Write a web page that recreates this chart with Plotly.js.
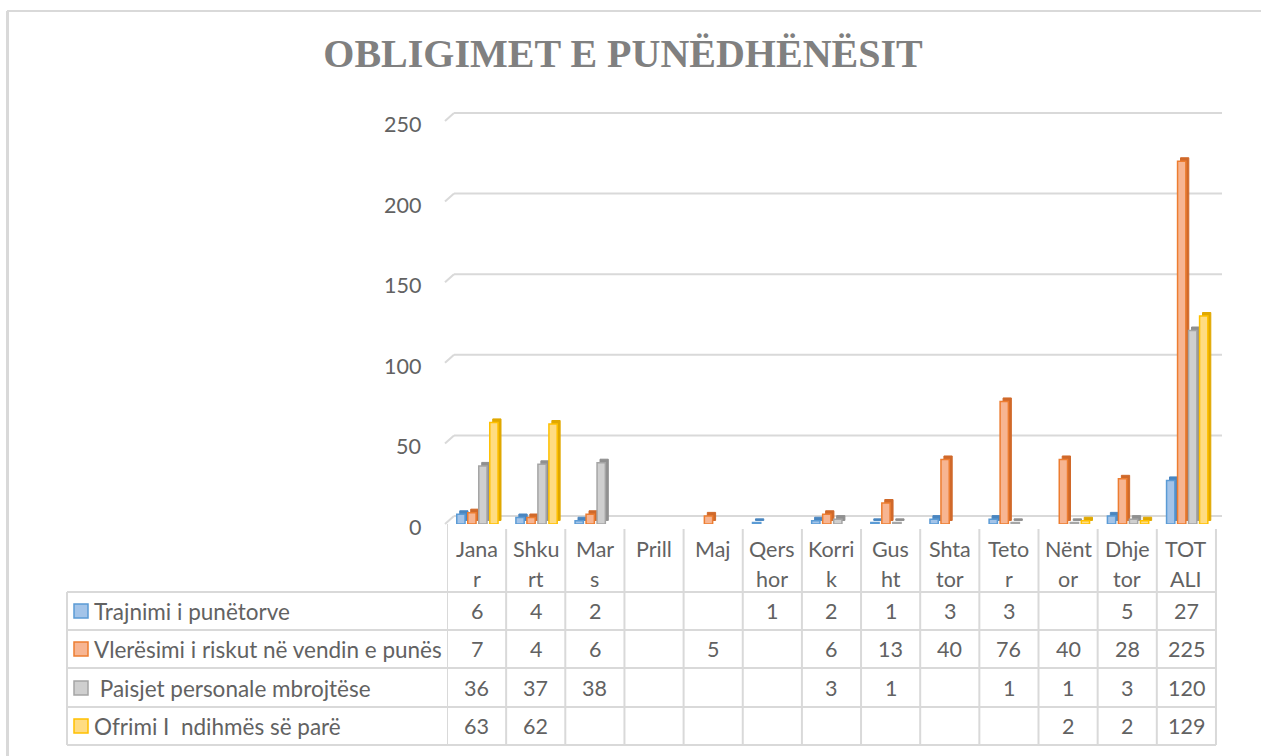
<!DOCTYPE html>
<html>
<head>
<meta charset="utf-8">
<script src="https://cdn.plot.ly/plotly-3.0.1.min.js"></script>
<style>html,body{margin:0;padding:0;background:#fff;}#chart{width:1261px;height:756px;}</style>
</head>
<body>
<div id="chart"></div>
<script>
// ---- DATA ----
const categories = ['Janar','Shkurt','Mars','Prill','Maj','Qershor','Korrik','Gusht','Shtator','Tetor','Nëntor','Dhjetor','TOTALI'];
const tickLabels = ['Jana<br>r','Shku<br>rt','Mar<br>s','Prill','Maj','Qers<br>hor','Korri<br>k','Gus<br>ht','Shta<br>tor','Teto<br>r','Nënt<br>or','Dhje<br>tor','TOT<br>ALI'];
const seriesNames = ['Trajnimi i punëtorve','Vlerësimi i riskut në vendin e punës','\u00a0Paisjet personale mbrojtëse','Ofrimi I \u00a0ndihmës së parë'];
const trajnimi  = [6, 4, 2, null, null, 1, 2, 1, 3, 3, null, 5, 27];
const vleresimi = [7, 4, 6, null, 5, null, 6, 13, 40, 76, 40, 28, 225];
const paisjet   = [36, 37, 38, null, null, null, 3, 1, null, 1, 1, 3, 120];
const ofrimi    = [63, 62, null, null, null, null, null, null, null, null, 2, 2, 129];
const yTicks = [0, 50, 100, 150, 200, 250];

// ---- STYLE ----
const seriesData = [trajnimi, vleresimi, paisjet, ofrimi];
const fills  = ['#a3c4e9', '#f7b592', '#cfcfcf', '#ffdc82'];
const edges  = ['#5b9bd5', '#ed7d31', '#a5a5a5', '#ffc000'];
const sides  = ['#4a86c0', '#d0692a', '#909090', '#e0a800'];
const textColor = '#626262';
const gridColor = '#d9d9d9';
const FONT = 'Lato, "Open Sans", sans-serif';
const yMax = 250;

// plot area in pixels (front face scale)
const L = 447, R = 1222, T = 121, B = 524;
const W = 1261, H = 756;
const PH = B - T;
const px2x = px => (px - L) / (R - L);
const py2y = py => (B - py) / PH;
const catPx = 59.15;
const r0 = -0.5;
const r1 = r0 + (R - L) / catPx;
const backDx = 7, backDy = 8;   // perspective shift of the back wall (px)

const slot = 0.186, start = -0.335, fw = 0.14, depthDx = 0.05;

const traces = [];
seriesData.forEach((vals, i) => {
  const off = start + i * slot;
  traces.push({
    type: 'bar', x: categories, y: vals, base: 2.2,
    offset: off + depthDx, width: fw,
    marker: {color: sides[i], line: {color: sides[i], width: 1}},
    hoverinfo: 'skip', showlegend: false
  });
  traces.push({
    type: 'bar', x: categories, y: vals, name: seriesNames[i],
    offset: off, width: fw,
    marker: {color: fills[i], line: {color: edges[i], width: 1.5}},
    hoverinfo: 'skip', showlegend: false
  });
});

const shapes = [];
const annotations = [];
const line = (x0, y0, x1, y1, w, layer) => ({type: 'line', xref: 'paper', yref: 'paper', x0, y0, x1, y1, line: {color: gridColor, width: w || 2}, layer: layer || 'below'});

// outer chart border (top + left)
shapes.push(line(px2x(7), py2y(11), px2x(1261), py2y(11)));
shapes.push(line(px2x(7.5), py2y(11), px2x(7.5), py2y(756), 3));

// back-wall gridlines + perspective diagonals + value-axis labels
yTicks.forEach(v => {
  const yf = v / yMax;
  const yb = yf + backDy / PH;
  shapes.push(line(px2x(L - 2), yf, px2x(L + backDx), yb, 2, 'below'));
  shapes.push(line(px2x(L + backDx), yb, px2x(R), yb, 2, 'below'));
  annotations.push({xref: 'paper', yref: 'y', x: px2x(423), y: v, yshift: -3, text: String(v), showarrow: false, xanchor: 'right', yanchor: 'middle', font: {family: FONT, size: 21.5, color: textColor}});
});

// table horizontal lines
const rowLines = [592, 630, 668, 707, 745];
rowLines.forEach(py => shapes.push(line(px2x(67), py2y(py), px2x(1216), py2y(py))));
shapes.push(line(px2x(67), py2y(592), px2x(67), py2y(745)));
// category column separators
for (let k = 0; k <= categories.length; k++) {
  shapes.push({type: 'line', xref: 'x', yref: 'paper', x0: k - 0.5, x1: k - 0.5, y0: py2y(k === 0 ? 524 : 529), y1: py2y(745), line: {color: gridColor, width: 2}, layer: 'below'});
}

// category labels (two lines)
tickLabels.forEach((lab, j) => {
  lab.split('<br>').forEach((part, li) => {
    annotations.push({xref: 'x', yref: 'paper', x: categories[j], y: py2y(549 + li * 30), text: part, showarrow: false, xanchor: 'center', yanchor: 'middle', font: {family: FONT, size: 21.5, color: textColor}});
  });
});

// table rows
const rowCenters = [611, 649, 688, 726];
seriesData.forEach((vals, i) => {
  const cy = rowCenters[i];
  shapes.push({type: 'rect', xref: 'paper', yref: 'paper', x0: px2x(74), x1: px2x(88), y0: py2y(cy - 7), y1: py2y(cy + 7), fillcolor: fills[i], line: {color: edges[i], width: 1.5}});
  annotations.push({xref: 'paper', yref: 'paper', x: px2x(92), y: py2y(cy), text: seriesNames[i], showarrow: false, xanchor: 'left', yanchor: 'middle', font: {family: FONT, size: 22.5, color: textColor}});
  vals.forEach((v, j) => {
    if (v === null) return;
    annotations.push({xref: 'x', yref: 'paper', x: categories[j], y: py2y(cy), text: String(v), showarrow: false, xanchor: 'center', yanchor: 'middle', font: {family: FONT, size: 21.5, color: textColor}});
  });
});

const layout = {
  width: W, height: H,
  margin: {l: L, r: W - R, t: T, b: H - B, pad: 0},
  paper_bgcolor: '#ffffff', plot_bgcolor: 'rgba(0,0,0,0)',
  title: {text: '<b>OBLIGIMET E PUNËDHËNËSIT</b>', x: 623 / W, xref: 'container', xanchor: 'center', y: 1 - 53 / H, yref: 'container', yanchor: 'middle',
          font: {family: '"Liberation Serif", "Times New Roman", serif', size: 40, color: '#808080'}},
  barmode: 'overlay',
  xaxis: {type: 'category', range: [r0, r1], showticklabels: false, showgrid: false, zeroline: false, showline: false, ticks: '', fixedrange: true},
  yaxis: {range: [0, yMax], tickvals: yTicks, showticklabels: false, showgrid: false,
          zeroline: false, showline: false, ticks: '', fixedrange: true},
  shapes, annotations, showlegend: false
};

Plotly.newPlot('chart', traces, layout, {displayModeBar: false, staticPlot: true});
</script>
</body>
</html>
